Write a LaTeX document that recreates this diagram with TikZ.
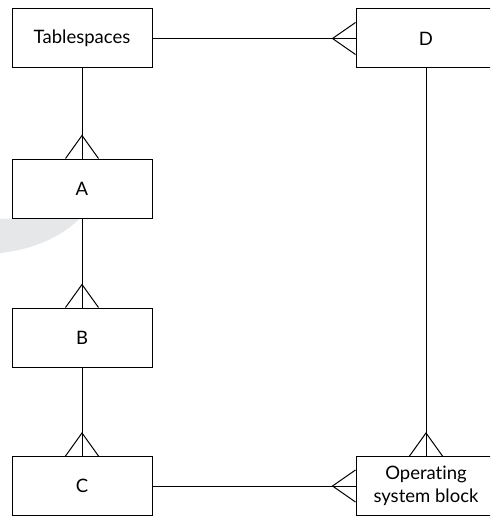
\documentclass[tikz,border=0pt]{standalone}
\usepackage{fontspec}
\setmainfont{Lato}[Ligatures=NoCommon]
\definecolor{swoosh}{HTML}{E6E7E8}
\begin{document}
\begin{tikzpicture}[x=1pt,y=-1pt,
  entity/.style={draw=black, fill=white, line width=1pt, minimum width=140pt, minimum height=59pt,
    inner sep=0pt, align=center, font=\fontsize{18.5}{23.5}\selectfont},
  rel/.style={line width=1pt}]
\clip (0,0) rectangle (490,516);
\useasboundingbox (0,0) rectangle (490,516);
\fill[white] (0,0) rectangle (490,516);
% background swoosh
\fill[swoosh] (0,219) -- (82,216) .. controls (62,238) and (30,250) .. (0,253) -- cycle;
% entities
\node[entity] (T) at (82,38.5) {Tablespaces};
\node[entity] (A) at (82,188.5) {A};
\node[entity] (B) at (82,337.5) {B};
\node[entity] (C) at (82,486) {C};
\node[entity] (D) at (426,38.5) {D};
\node[entity] (O) at (426,486) {Operating\\system block};
% relationships
\draw[rel] (T) -- (A);
\draw[rel] (A) -- (B);
\draw[rel] (B) -- (C);
\draw[rel] (T) -- (D);
\draw[rel] (C) -- (O);
\draw[rel] (D) -- (O);
% crow's feet
\foreach \n in {A,B,C,O}{
  \draw[rel] ([xshift=-16.5pt]\n.north) -- ([yshift=23pt]\n.north) -- ([xshift=16.5pt]\n.north);
}
\foreach \n in {D,O}{
  \draw[rel] ([yshift=16pt]\n.west) -- ([xshift=-23pt]\n.west) -- ([yshift=-16pt]\n.west);
}
\end{tikzpicture}
\end{document}
